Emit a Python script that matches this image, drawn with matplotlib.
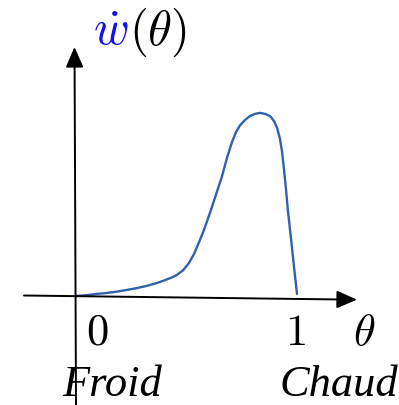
import matplotlib
matplotlib.use("Agg")
import matplotlib.pyplot as plt

plt.rcParams["mathtext.fontset"] = "cm"

# Reaction rate profile w'(theta) between cold (0) and hot (1)
theta = [0.0, 0.045, 0.090, 0.136, 0.181, 0.226, 0.271, 0.317, 0.362, 0.398,
         0.430, 0.452, 0.484, 0.511, 0.534, 0.557, 0.579, 0.606, 0.633, 0.661,
         0.683, 0.706, 0.724, 0.742, 0.765, 0.787, 0.810, 0.833, 0.855, 0.878,
         0.896, 0.910, 0.923, 0.932, 0.941, 0.950, 0.959, 0.973, 0.986, 1.0]
rate = [0.0, 0.004, 0.011, 0.016, 0.023, 0.032, 0.042, 0.054, 0.069, 0.084,
        0.099, 0.111, 0.139, 0.179, 0.228, 0.293, 0.359, 0.451, 0.549, 0.652,
        0.750, 0.837, 0.891, 0.927, 0.957, 0.978, 0.990, 0.995, 0.990, 0.978,
        0.951, 0.913, 0.853, 0.788, 0.690, 0.582, 0.462, 0.310, 0.163, 0.011]

tick_labels = ["0", "1"]
end_labels = ["Froid", "Chaud"]

W, H = 399, 406
fig = plt.figure(figsize=(W / 100, H / 100), dpi=100)
ax = fig.add_axes([0, 0, 1, 1])
ax.set_xlim(-0.3439, 1.4615)
ax.set_ylim(-0.5924, 1.6141)
ax.axis("off")

# curve
ax.plot(theta, rate, color="#2F62AC", lw=1.7, solid_capstyle="round",
        solid_joinstyle="round")

# hand-drawn style axes with filled arrowheads
arrow = dict(arrowstyle="-|>,head_length=0.62,head_width=0.27",
             color="black", lw=1.4, mutation_scale=20, shrinkA=0, shrinkB=0)
ax.annotate("", xy=(1.2715, -0.0201), xytext=(-0.2353, 0.0027), arrowprops=arrow)
ax.annotate("", xy=(-0.0068, 1.3533), xytext=(0.0, -0.5924), arrowprops=arrow)


def px(x, y):
    return x / W, 1 - y / H


fs = 32
# y-axis label: w-dot in blue, (theta) in black
fig.text(*px(93, 45), r"$\dot{w}$", color="#1010F0", fontsize=35,
         ha="left", va="baseline")
fig.text(*px(129, 45), r"$(\theta)$", color="black", fontsize=35,
         ha="left", va="baseline")

# tick labels and x-axis label
fig.text(*px(97, 345), r"$%s$" % tick_labels[0], fontsize=fs, ha="center", va="baseline")
fig.text(*px(295, 345), r"$%s$" % tick_labels[1], fontsize=fs, ha="center", va="baseline")
fig.text(*px(364, 345), r"$\theta$", fontsize=fs, ha="center", va="baseline")

# cold / hot annotations
fig.text(*px(62, 396), end_labels[0], fontsize=fs, family="Liberation Serif",
         style="italic", ha="left", va="baseline")
fig.text(*px(280, 396), end_labels[1], fontsize=fs, family="Liberation Serif",
         style="italic", ha="left", va="baseline")

fig.savefig("out.png", dpi=100)
